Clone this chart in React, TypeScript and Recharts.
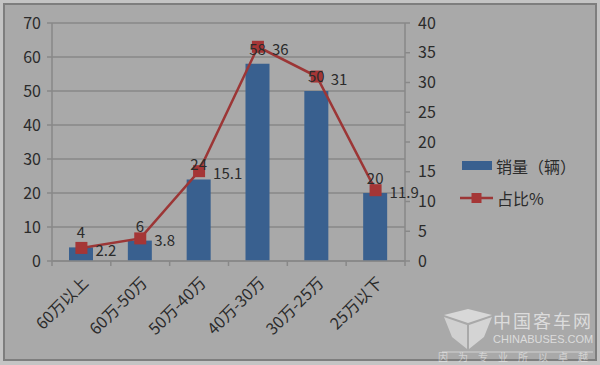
import React from 'react';
import { ComposedChart, Bar, Line, XAxis, YAxis, CartesianGrid, LabelList } from 'recharts';

const categories = ['60万以上', '60万-50万', '50万-40万', '40万-30万', '30万-25万', '25万以下'];
const sales = [4, 6, 24, 58, 50, 20];
const share = [2.2, 3.8, 15.1, 36, 31, 11.9];
const leftTicks = [0, 10, 20, 30, 40, 50, 60, 70];
const rightTicks = [0, 5, 10, 15, 20, 25, 30, 35, 40];
const seriesNames = ['销量（辆）', '占比%'];

const data = categories.map((c, i) => ({ name: c, sales: sales[i], share: share[i] }));

const FONT = '"Noto Sans CJK SC", "Noto Sans", sans-serif';
const TEXT = '#2b2b2b';
const BAR = '#39608f';
const LINE = '#9c3636';
const GRID = '#888888';
const BG = '#a9a9a9';

const XTick = (props: any) => {
  const { x, y, payload, index } = props;
  const half = 353 / 12;
  const ax = x + 8;
  const ay = y + 15;
  return (
    <g>
      <line x1={x - half} y1={y - 8} x2={x - half} y2={y - 3} stroke={GRID} strokeWidth={1.5} />
      {index === categories.length - 1 && (
        <line x1={x + half} y1={y - 8} x2={x + half} y2={y - 3} stroke={GRID} strokeWidth={1.5} />
      )}
      <text
        x={ax}
        y={ay}
        textAnchor="end"
        transform={`rotate(-45, ${ax}, ${ay})`}
        fill={TEXT}
        fontSize={16}
        fontFamily={FONT}
      >
        {payload.value}
      </text>
    </g>
  );
};

const SquareDot = (props: any) => {
  const { cx, cy, index } = props;
  if (cx == null || cy == null) return null;
  return <rect key={`d${index}`} x={cx - 6} y={cy - 6} width={12} height={12} fill="#a53636" />;
};

const BarLabel = (props: any) => {
  const { x, y, width, value } = props;
  return (
    <text x={x + width / 2} y={y - 9} textAnchor="middle" fill={TEXT} fontSize={15} fontFamily={FONT}>
      {value}
    </text>
  );
};

const LineLabel = (props: any) => {
  const { x, y, value } = props;
  return (
    <text x={x + 14} y={y + 8} textAnchor="start" fill={TEXT} fontSize={15} fontFamily={FONT}>
      {value}
    </text>
  );
};

const LegendBox = () => (
  <div style={{ position: 'absolute', left: 460, top: 155, fontFamily: FONT, fontSize: 16, color: TEXT }}>
    <div style={{ display: 'flex', alignItems: 'center', height: 22 }}>
      <svg width={34} height={12}>
        <rect x={2} y={1} width={30} height={9} fill={BAR} />
      </svg>
      <span style={{ marginLeft: 2 }}>{seriesNames[0]}</span>
    </div>
    <div style={{ display: 'flex', alignItems: 'center', height: 22, marginTop: 10 }}>
      <svg width={34} height={12}>
        <line x1={0} y1={6} x2={33} y2={6} stroke={LINE} strokeWidth={2.5} />
        <rect x={11.5} y={1} width={10} height={10} fill="#a53636" />
      </svg>
      <span style={{ marginLeft: 3 }}>{seriesNames[1]}</span>
    </div>
  </div>
);

export default function App() {
  return (
    <div style={{ position: 'absolute', left: 0, top: 0, width: 600, height: 365, background: '#c4c4c4' }}>
      <div
        style={{
          position: 'absolute',
          left: 3,
          top: 3,
          width: 590,
          height: 354,
          background: BG,
          border: '2px solid #7e7e7e',
        }}
      />
      <div style={{ position: 'absolute', left: 0, top: 0 }}>
        <ComposedChart width={600} height={365} data={data} margin={{ top: 23, right: 155, bottom: 24, left: 12 }}>
          <CartesianGrid vertical={false} stroke={GRID} strokeWidth={1.5} yAxisId="left" />
          <XAxis
            dataKey="name"
            height={80}
            interval={0}
            tick={<XTick />}
            tickLine={false}
            axisLine={{ stroke: GRID, strokeWidth: 1.5 }}
            yAxisId="left"
          />
          <YAxis
            yAxisId="left"
            width={40}
            domain={[0, 70]}
            ticks={leftTicks}
            interval={0}
            tick={{ fill: TEXT, fontSize: 16, fontFamily: FONT }}
            tickLine={{ stroke: GRID, strokeWidth: 1.5 }}
            tickSize={5}
            tickMargin={6}
            axisLine={{ stroke: GRID, strokeWidth: 1.5 }}
          />
          <YAxis
            yAxisId="right"
            orientation="right"
            width={40}
            domain={[0, 40]}
            ticks={rightTicks}
            interval={0}
            tick={{ fill: TEXT, fontSize: 16, fontFamily: FONT }}
            tickLine={{ stroke: GRID, strokeWidth: 1.5 }}
            tickSize={5}
            tickMargin={8}
            axisLine={{ stroke: GRID, strokeWidth: 1.5 }}
          />
          <Bar yAxisId="left" dataKey="sales" name={seriesNames[0]} fill={BAR} barSize={24} isAnimationActive={false}>
            <LabelList dataKey="sales" content={<BarLabel />} />
          </Bar>
          <Line
            yAxisId="right"
            dataKey="share"
            name={seriesNames[1]}
            stroke={LINE}
            strokeWidth={2.5}
            dot={<SquareDot />}
            activeDot={false}
            isAnimationActive={false}
          >
            <LabelList dataKey="share" content={<LineLabel />} />
          </Line>
        </ComposedChart>
      </div>
      <LegendBox />
      <div style={{ position: 'absolute', left: 430, top: 307, width: 165, height: 55, pointerEvents: 'none' }}>
        <svg width={165} height={55} style={{ position: 'absolute', left: 0, top: 0 }}>
          <polygon points="14,8 38,2 62,8 38,16" fill="rgba(255,255,255,0.55)" />
          <polygon points="14,10 37,18 37,42 22,30" fill="rgba(255,255,255,0.45)" />
          <polygon points="62,10 39,18 39,42 54,30" fill="rgba(255,255,255,0.5)" />
          <line x1={12} y1={45} x2={163} y2={45} stroke="rgba(255,255,255,0.5)" strokeWidth={1} />
        </svg>
        <div style={{ position: 'absolute', left: 63, top: 0, fontFamily: FONT, fontSize: 18, color: 'rgba(255,255,255,0.6)', letterSpacing: 2, whiteSpace: 'nowrap' }}>
          中国客车网
        </div>
        <div style={{ position: 'absolute', left: 63, top: 26, fontFamily: '"Liberation Sans", sans-serif', fontSize: 11, color: 'rgba(255,255,255,0.6)', whiteSpace: 'nowrap' }}>
          CHINABUSES.COM
        </div>
        <div style={{ position: 'absolute', left: 8, top: 42, fontFamily: FONT, fontSize: 10, color: 'rgba(255,255,255,0.5)', letterSpacing: 10, whiteSpace: 'nowrap' }}>
          因为专业所以卓越
        </div>
      </div>
    </div>
  );
}
